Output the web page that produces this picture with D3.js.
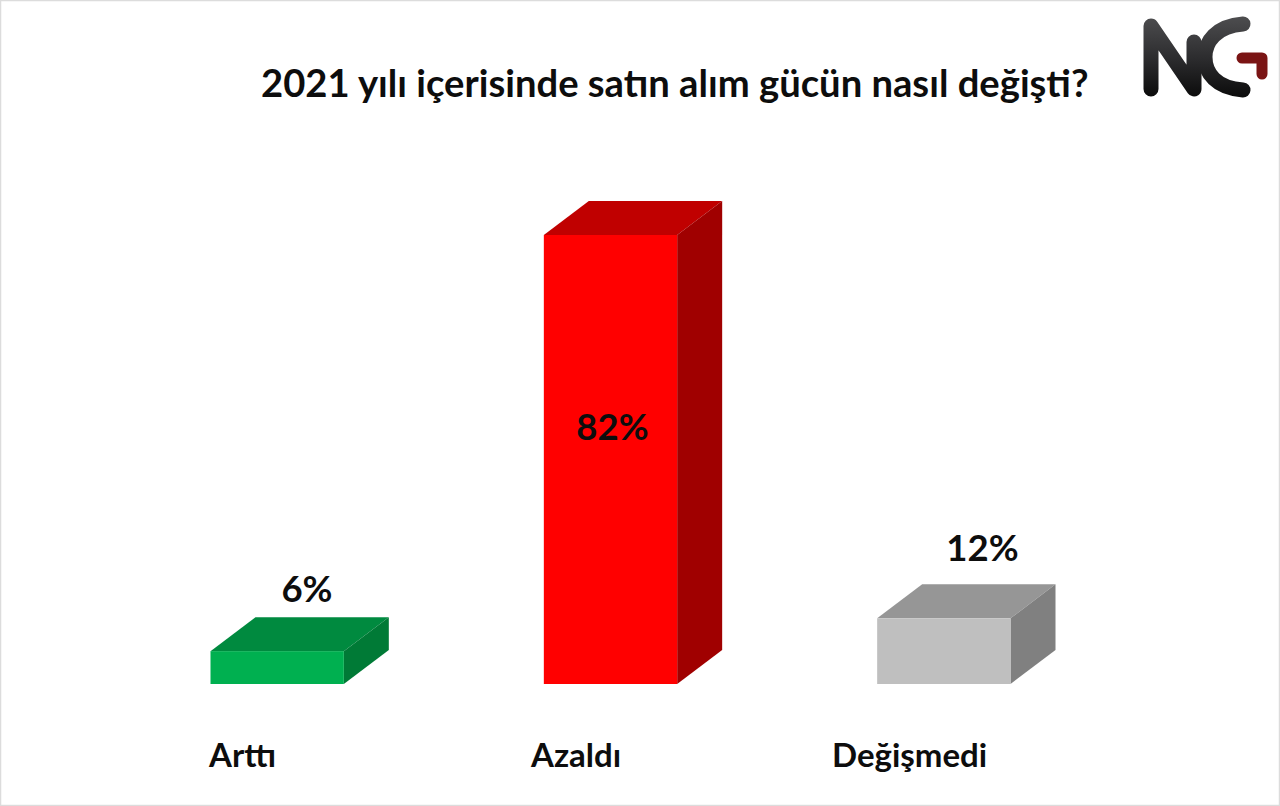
<!DOCTYPE html>
<html><head><meta charset="utf-8">
<script src="https://cdn.jsdelivr.net/npm/d3@7"></script>
<style>html,body{margin:0;padding:0;background:#fff}svg{display:block}text{font-family:Lato,"Open Sans",sans-serif;font-weight:700;fill:#0d0d0d}</style>
</head><body><svg id="c" width="1280" height="806"></svg>
<script>
const titleText = "2021 yılı içerisinde satın alım gücün nasıl değişti?";
const categories = ["Arttı", "Azaldı", "Değişmedi"];
const values = [6, 82, 12];
const valueLabels = ["6%", "82%", "12%"];
const frontColors = ["#00b050", "#ff0000", "#bfbfbf"];
const topColors = ["#008a3f", "#c00000", "#969696"];
const sideColors = ["#007a36", "#a00000", "#808080"];

const svg = d3.select("#c");
const x = d3.scaleBand().domain(categories).range([210.5, 1010.5]).paddingInner(0.6).paddingOuter(0);
const y = d3.scaleLinear().domain([0, 82]).range([684, 235]);
const dx = 45, dy = 34;

svg.append("rect").attr("x",0.5).attr("y",0.5).attr("width",1279).attr("height",805).attr("fill","#fff").attr("stroke","#dcdcdc").attr("stroke-width",1.5);

const g = svg.append("g").selectAll("g").data(categories).join("g");
const line = d3.line();
g.append("path").attr("fill",(d,i)=>topColors[i]).attr("d",(d,i)=>{
  const l=x(d), r=l+x.bandwidth(), t=y(values[i]);
  return line([[l,t],[r,t],[r+dx,t-dy],[l+dx,t-dy]])+"Z";});
g.append("path").attr("fill",(d,i)=>sideColors[i]).attr("d",(d,i)=>{
  const r=x(d)+x.bandwidth(), t=y(values[i]), b=y(0);
  return line([[r,t],[r+dx,t-dy],[r+dx,b-dy],[r,b]])+"Z";});
g.append("rect").attr("fill",(d,i)=>frontColors[i]).attr("x",d=>x(d)).attr("width",x.bandwidth())
  .attr("y",(d,i)=>y(values[i])).attr("height",(d,i)=>y(0)-y(values[i]));

const labelX = [307, 612.5, 982.5];
const labelY = [602, 440, 561];
svg.append("g").selectAll("text").data(valueLabels).join("text")
  .attr("x",(d,i)=>labelX[i]).attr("y",(d,i)=>labelY[i]).attr("text-anchor","middle").attr("font-size",36.5).text(d=>d);

const catX = [209, 531, 832];
svg.append("g").selectAll("text").data(categories).join("text")
  .attr("x",(d,i)=>catX[i]).attr("y",767).attr("font-size",33).text(d=>d);

svg.append("text").attr("x",261).attr("y",97).attr("font-size",38.2).text(titleText);

const logo = svg.append("g").attr("fill","none").attr("stroke-linecap","round").attr("stroke-linejoin","round");
const grad = svg.append("defs").append("linearGradient").attr("id","lg").attr("gradientUnits","userSpaceOnUse").attr("x1",0).attr("x2",0).attr("y1",18).attr("y2",96);
grad.append("stop").attr("offset","0").attr("stop-color","#4c4c4e");
grad.append("stop").attr("offset","0.55").attr("stop-color","#2a2a2c");
grad.append("stop").attr("offset","1").attr("stop-color","#0c0c0c");
logo.append("path").attr("stroke","url(#lg)").attr("stroke-width",15).attr("d","M1151 89 V26 L1194 89 V42");
logo.append("path").attr("stroke","url(#lg)").attr("stroke-width",15).attr("d","M1243 24 C1216 26 1205 42 1205 57 C1205 73 1216 88 1243 90");
logo.append("path").attr("stroke","#7a1414").attr("stroke-width",11).attr("d","M1242 58 H1262 V74");
</script></body></html>
